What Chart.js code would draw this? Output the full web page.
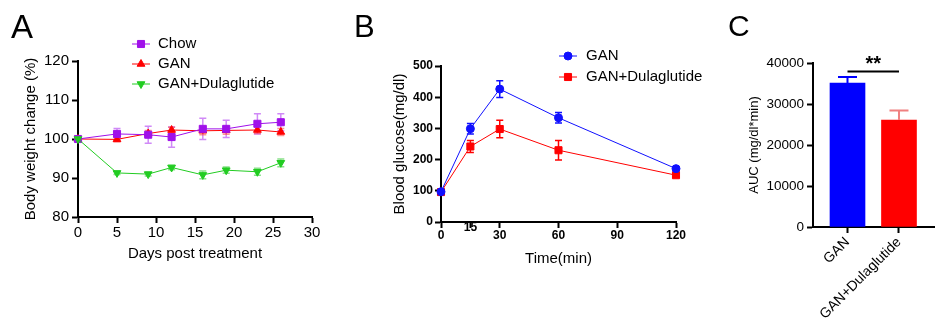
<!DOCTYPE html>
<html>
<head>
<meta charset="utf-8">
<script src="https://cdn.jsdelivr.net/npm/chart.js@4.4.1/dist/chart.umd.min.js"></script>
<style>
  body { margin: 0; background: #fff; font-family: 'Liberation Sans', Arial, sans-serif; }
  #wrap { position: relative; width: 952px; height: 327px; overflow: hidden; }
  canvas { position: absolute; top: 0; }
  .letter { position: absolute; line-height: 1; color: #000; }
</style>
</head>
<body>
<div id="wrap">
  <canvas id="weightChart" width="330" height="327" style="left:0"></canvas>
  <canvas id="glucoseChart" width="380" height="327" style="left:330px"></canvas>
  <canvas id="aucChart" width="242" height="327" style="left:710px"></canvas>
  <div class="letter" style="left:11px;top:10px;font-size:33px">A</div>
  <div class="letter" style="left:354px;top:11px;font-size:31px">B</div>
  <div class="letter" style="left:728px;top:11px;font-size:30px">C</div>
</div>
<script>
  // Body weight (% of day 0)
  const days = [0, 5, 9, 12, 16, 19, 23, 26];
  const chowWeight = [100, 101.3, 101.1, 100.5, 102.6, 102.6, 103.9, 104.3];
  const chowWeightErr = [0, 1.4, 2.2, 2.6, 2.7, 2.2, 2.6, 2.2];
  const ganWeight = [100, 99.9, 101.4, 102.3, 102.1, 102.2, 102.3, 101.8];
  const ganWeightErr = [0, 0.6, 0.8, 0.7, 1.0, 1.0, 0.9, 0.9];
  const dulaWeight = [100, 91.3, 91.0, 92.7, 90.8, 92.0, 91.6, 93.9];
  const dulaWeightErr = [0, 0.4, 0.5, 0.6, 1.0, 0.8, 0.9, 1.0];

  // Glucose tolerance test
  const times = [0, 15, 30, 60, 120];
  const timeTicks = [0, 15, 30, 60, 90, 120];
  const ganGlucose = [97, 299, 426, 334, 171];
  const ganGlucoseErr = [5, 17, 27, 17, 6];
  const dulaGlucose = [96, 242, 298, 230, 150];
  const dulaGlucoseErr = [6, 19, 28, 31, 6];

  // Area under the curve
  const groups = ['GAN', 'GAN+Dulaglutide'];
  const aucValues = [35100, 26100];
  const aucErr = [1470, 2300];
  const sigLevel = 37900;
  const sigText = '**';

  const FONT = "'Liberation Sans', Arial, sans-serif";
  Chart.defaults.font.family = FONT;
  Chart.defaults.color = '#000';

  const toXY = (xs, ys) => xs.map((x, i) => ({ x: x, y: ys[i] }));

  function drawErrors(chart, opts) {
    const ctx = chart.ctx;
    chart.data.datasets.forEach((ds, i) => {
      if (!ds.errors) return;
      const meta = chart.getDatasetMeta(i);
      const yScale = chart.scales[meta.yAxisID];
      ctx.save();
      ctx.lineWidth = opts.width;
      meta.data.forEach((el, j) => {
        const err = ds.errors[j];
        if (!err) return;
        const v = ds.data[j].y;
        const top = yScale.getPixelForValue(v + err);
        const bot = yScale.getPixelForValue(opts.upOnly ? v : v - err);
        ctx.strokeStyle = Array.isArray(ds.errorColor) ? ds.errorColor[j] : ds.errorColor;
        ctx.beginPath();
        ctx.moveTo(el.x, top);
        ctx.lineTo(el.x, bot);
        ctx.moveTo(el.x - opts.cap, top);
        ctx.lineTo(el.x + opts.cap, top);
        if (!opts.upOnly) {
          ctx.moveTo(el.x - opts.cap, bot);
          ctx.lineTo(el.x + opts.cap, bot);
        }
        ctx.stroke();
      });
      ctx.restore();
    });
  }

  const errorBars = {
    id: 'errorBars',
    beforeDatasetsDraw(chart, args, opts) { if (!opts.above) drawErrors(chart, opts); },
    afterDatasetsDraw(chart, args, opts) { if (opts.above) drawErrors(chart, opts); }
  };

  // legend with a short line through the marker, stacked vertically
  const lineLegend = {
    id: 'lineLegend',
    afterDraw(chart, args, opts) {
      const ctx = chart.ctx;
      ctx.save();
      ctx.font = opts.fontSize + 'px ' + FONT;
      ctx.textBaseline = 'middle';
      chart.data.datasets.forEach((ds, i) => {
        const y = opts.y + i * opts.rowGap;
        ctx.strokeStyle = ds.borderColor;
        ctx.lineWidth = 1;
        ctx.beginPath();
        ctx.moveTo(opts.x, y);
        ctx.lineTo(opts.x + opts.lineLen, y);
        ctx.stroke();
        ctx.fillStyle = ds.backgroundColor;
        Chart.helpers.drawPoint(ctx, {
          pointStyle: ds.pointStyle,
          rotation: ds.pointRotation || 0,
          radius: ds.pointRadius,
          borderWidth: 1
        }, opts.x + opts.lineLen / 2, y);
        ctx.fillStyle = '#000';
        ctx.fillText(ds.label, opts.x + opts.lineLen + opts.textGap, y);
      });
      ctx.restore();
    }
  };

  const significance = {
    id: 'significance',
    afterDraw(chart, args, opts) {
      const ctx = chart.ctx;
      const xs = chart.scales.x, ys = chart.scales.y;
      const y = ys.getPixelForValue(opts.value);
      ctx.save();
      ctx.strokeStyle = '#000';
      ctx.lineWidth = 2;
      ctx.beginPath();
      ctx.moveTo(xs.getPixelForValue(opts.from), y);
      ctx.lineTo(xs.getPixelForValue(opts.to), y);
      ctx.stroke();
      ctx.fillStyle = '#000';
      ctx.font = 'bold 20px ' + FONT;
      ctx.textAlign = 'center';
      ctx.textBaseline = 'alphabetic';
      ctx.fillText(opts.text, (xs.getPixelForValue(opts.from) + xs.getPixelForValue(opts.to)) / 2, y - 2);
      ctx.restore();
    }
  };

  function axis(extra) {
    return Object.assign({
      grid: { display: true, drawOnChartArea: false, drawTicks: true, tickLength: 6, tickWidth: 2, tickColor: '#000', offset: false },
      border: { display: true, color: '#000', width: 2 }
    }, extra);
  }

  // A: body weight change
  new Chart(document.getElementById('weightChart'), {
    type: 'line',
    data: {
      datasets: [
        { label: 'Chow', data: toXY(days, chowWeight), errors: chowWeightErr,
          borderColor: '#a010ea', backgroundColor: '#a010ea', errorColor: 'rgba(170,40,240,0.55)',
          pointStyle: 'rect', pointRadius: 5, order: 1 },
        { label: 'GAN', data: toXY(days, ganWeight), errors: ganWeightErr,
          borderColor: '#ff0000', backgroundColor: '#ff0000', errorColor: 'rgba(255,40,40,0.5)',
          pointStyle: 'triangle', pointRadius: 4.5, order: 2 },
        { label: 'GAN+Dulaglutide', data: toXY(days, dulaWeight), errors: dulaWeightErr,
          borderColor: '#22cc22', backgroundColor: '#22cc22', errorColor: 'rgba(40,200,40,0.55)',
          pointStyle: 'triangle', pointRotation: 180, pointRadius: 4.5, order: 0 }
      ].map(ds => Object.assign({ borderWidth: 1, pointBorderColor: ds.borderColor, tension: 0, clip: false }, ds))
    },
    options: {
      responsive: false,
      animation: false,
      layout: { padding: { top: 61, right: 18, left: 0, bottom: 0 } },
      scales: {
        x: axis({
          type: 'linear', min: 0, max: 30,
          ticks: { stepSize: 5, padding: 1, font: { size: 15 } },
          title: { display: true, text: 'Days post treatment', font: { size: 15 }, padding: { top: 0, bottom: 64 } },
          afterFit: s => { s.height = 110; }
        }),
        y: axis({
          min: 80, max: 120,
          ticks: { stepSize: 10, padding: 3, font: { size: 15 } },
          title: { display: true, text: 'Body weight change (%)', font: { size: 15 }, padding: { top: 22, bottom: 0 } },
          afterFit: s => { s.width = 78; }
        })
      },
      plugins: {
        legend: { display: false },
        tooltip: { enabled: false },
        errorBars: { width: 1.5, cap: 3.5 },
        lineLegend: { x: 132, y: 44, rowGap: 20, lineLen: 18, textGap: 8, fontSize: 15 }
      }
    },
    plugins: [errorBars, lineLegend]
  });

  // B: glucose tolerance curve
  new Chart(document.getElementById('glucoseChart'), {
    type: 'line',
    data: {
      datasets: [
        { label: 'GAN', data: toXY(times, ganGlucose), errors: ganGlucoseErr,
          borderColor: '#1010ff', backgroundColor: '#1010ff', errorColor: '#1010ff',
          pointStyle: 'circle', pointRadius: 4 },
        { label: 'GAN+Dulaglutide', data: toXY(times, dulaGlucose), errors: dulaGlucoseErr,
          borderColor: '#ff0000', backgroundColor: '#ff0000', errorColor: '#ff0000',
          pointStyle: 'rect', pointRadius: 5 }
      ].map(ds => Object.assign({ borderWidth: 1, pointBorderColor: ds.borderColor, tension: 0, clip: false }, ds))
    },
    options: {
      responsive: false,
      animation: false,
      layout: { padding: { top: 66, right: 34, left: 0, bottom: 0 } },
      scales: {
        x: axis({
          type: 'linear', min: 0, max: 120,
          afterBuildTicks: s => { s.ticks = timeTicks.map(v => ({ value: v })); },
          ticks: {
            padding: 0, crossAlign: 'center', font: { size: 12, weight: 'bold' },
            callback: v => v === 15 ? ['15', ''] : String(v)
          },
          title: { display: true, text: 'Time(min)', font: { size: 15 }, padding: { top: 0, bottom: 59 } },
          afterFit: s => { s.height = 105; }
        }),
        y: axis({
          min: 0, max: 500,
          ticks: { stepSize: 100, padding: 2, font: { size: 12, weight: 'bold' } },
          title: { display: true, text: 'Blood glucose(mg/dl)', font: { size: 15 }, padding: { top: 61, bottom: 0 } },
          afterFit: s => { s.width = 111; }
        })
      },
      plugins: {
        legend: { display: false },
        tooltip: { enabled: false },
        errorBars: { width: 1.5, cap: 3.5 },
        lineLegend: { x: 229, y: 56, rowGap: 21, lineLen: 18, textGap: 9, fontSize: 15 }
      }
    },
    plugins: [errorBars, lineLegend]
  });

  // C: AUC bars
  new Chart(document.getElementById('aucChart'), {
    type: 'bar',
    data: {
      datasets: [{
        label: 'AUC',
        data: aucValues.map((v, i) => ({ x: i + 1, y: v })),
        errors: aucErr,
        backgroundColor: ['#0000ff', '#ff0000'],
        errorColor: ['#0000ff', '#f08080'],
        barThickness: 35,
        borderWidth: 0
      }]
    },
    options: {
      responsive: false,
      animation: false,
      layout: { padding: { top: 63, right: 18, left: 0, bottom: 0 } },
      scales: {
        x: axis({
          type: 'linear', min: 0.33, max: 2.68, offset: false,
          afterBuildTicks: s => { s.ticks = groups.map((g, i) => ({ value: i + 1 })); },
          ticks: {
            autoSkip: false, minRotation: 45, maxRotation: 45, padding: 1, font: { size: 14 },
            callback: v => groups[v - 1]
          },
          afterFit: s => { s.height = 100; }
        }),
        y: axis({
          min: 0, max: 40000,
          ticks: { stepSize: 10000, padding: 3, font: { size: 13.5 }, callback: v => String(v) },
          title: { display: true, text: 'AUC (mg/dl*min)', font: { size: 13 }, padding: { top: 37, bottom: 0 } },
          afterFit: s => { s.width = 103; }
        })
      },
      plugins: {
        legend: { display: false },
        tooltip: { enabled: false },
        errorBars: { width: 2, cap: 9.5, upOnly: true, above: true },
        significance: { from: 1, to: 2, value: sigLevel, text: sigText }
      }
    },
    plugins: [errorBars, significance]
  });
</script>
</body>
</html>
